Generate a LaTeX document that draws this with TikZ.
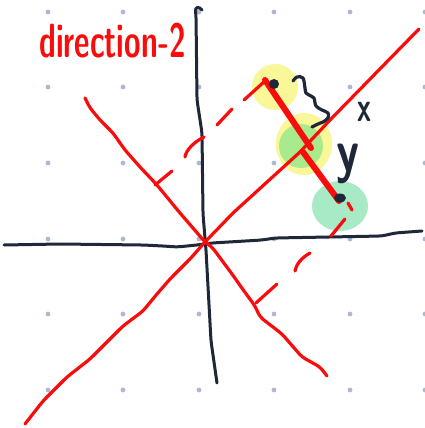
\documentclass[tikz,border=0pt]{standalone}
\usepackage{xcolor}
\usetikzlibrary{positioning, shapes.geometric}

\definecolor{inkred}{RGB}{250,12,12}
\definecolor{inkblack}{RGB}{30,40,56}
\definecolor{griddot}{RGB}{170,186,212}
\definecolor{hlyellow}{RGB}{250,247,152}
\definecolor{hlgreen}{RGB}{168,234,140}
\definecolor{hlmint}{RGB}{168,234,198}

\begin{document}
\begin{tikzpicture}[
  x=1pt, y=-1pt,
  axis/.style={draw=inkblack, line width=3pt, line cap=round, line join=round, rounded corners=4pt},
  pen/.style={draw=inkred, line width=3.2pt, line cap=round, line join=round, rounded corners=4pt},
  seg/.style={draw=inkred, line width=6pt, line cap=round},
  blob/.style={inner sep=0pt},
  ink/.style={fill=inkblack, inner sep=0pt},
  lbl/.style={inner sep=0pt, text=inkblack, anchor=base},
]
\useasboundingbox (0,0) rectangle (425,428);
\fill[white] (0,0) rectangle (425,428);

% dot grid
\foreach \gx in {48,123,199,274,350,425}
  \foreach \gy in {12,87,163,239,314,390}
    \fill[griddot] (\gx,\gy) circle (2.4pt);

% highlights
\node[blob, circle, fill=hlyellow, minimum size=46pt] (hlA) at (275,87) {};
\node[blob, ellipse, fill=hlyellow, minimum width=56pt, minimum height=62pt] (hlB) at (304,144) {};
\node[blob, circle, fill=hlgreen, minimum size=44pt] (hlG) at (301,146) {};
\node[blob, ellipse, fill=hlmint, minimum width=56pt, minimum height=50pt] (hlC) at (340,206) {};

% axes
\draw[axis] (202,10) .. controls (199,6) and (195,7) .. (196,15)
  -- (197,100) -- (202,133) -- (203,214) -- (206,250) -- (211,341) -- (217,383);
\draw[axis] (4,245) -- (60,244) -- (143,245) -- (163,246) -- (177,247) -- (197,245)
  -- (212,243) -- (262,240) -- (275,238) -- (329,237) -- (382,236) -- (395,233) -- (422,231);

% the two red directions
\coordinate (O) at (205,242);
\draw[pen] (25,424) -- (43,401) -- (67,377) -- (90,359) -- (110,339) -- (123,326)
  -- (143,311) -- (157,294) -- (170,279) -- (190,259) -- (O) -- (233,213)
  -- (300,152) -- (330,120) -- (419,29);
\draw[pen] (85,98) -- (90,108) -- (100,120) -- (113,133) -- (125,150) -- (140,167)
  -- (157,185) -- (180,213) -- (O) -- (212,247) -- (232,274) -- (244,291)
  -- (255,306) -- (260,317) -- (282,334) -- (302,357) -- (320,367) -- (327,376);

% projection of the upper point
\draw[pen] (265,81) -- (244,100);
\draw[pen] (232,109) -- (217,125);
\draw[pen] (204,137) .. controls (194,142) and (186,150) .. (185,157);
\draw[pen] (172,171) -- (155,185);

% projection of the lower point
\draw[pen] (348,203) -- (352,210);
\draw[pen] (345,219) -- (331,236);
\draw[pen] (310,253) .. controls (301,258) and (296,265) .. (295,271);
\draw[pen] (277,284) -- (256,303);

% points and the segments between them
\coordinate (A0) at (265,80);
\coordinate (B0) at (311,148);
\coordinate (B1) at (303,152);
\coordinate (C0) at (339,201);
\draw[seg] (A0) -- (B0);
\draw[seg] (B1) -- (C0);
\node[ink, circle, minimum size=10pt] (A) at (274,84) {};
\node[ink, ellipse, minimum width=12pt, minimum height=9pt] (C) at (340,198) {};

% brace and labels
\draw[draw=inkblack, line width=3.2pt, line cap=round, line join=round] plot[smooth, tension=0.55] coordinates
  {(293,81) (297,77) (303,78) (305,88) (306,93) (311,96) (314,98) (316,106) (322,110)
   (328,113) (328,118) (323,122) (318,124) (312,127)};
\node[lbl, font=\sffamily\bfseries\fontsize{28}{28}\selectfont] (xl) at (364,121) {\scalebox{1}[1.5]{x}};
\node[lbl, font=\sffamily\bfseries\fontsize{40}{40}\selectfont] (yl) at (348,171) {\scalebox{1.15}[1.5]{y}};

\node[lbl, text=inkred, anchor=base west, font=\sffamily\bfseries\fontsize{30}{30}\selectfont] (title) at (39,57)
  {\scalebox{1}[1.6]{direction-2}};
\end{tikzpicture}
\end{document}
